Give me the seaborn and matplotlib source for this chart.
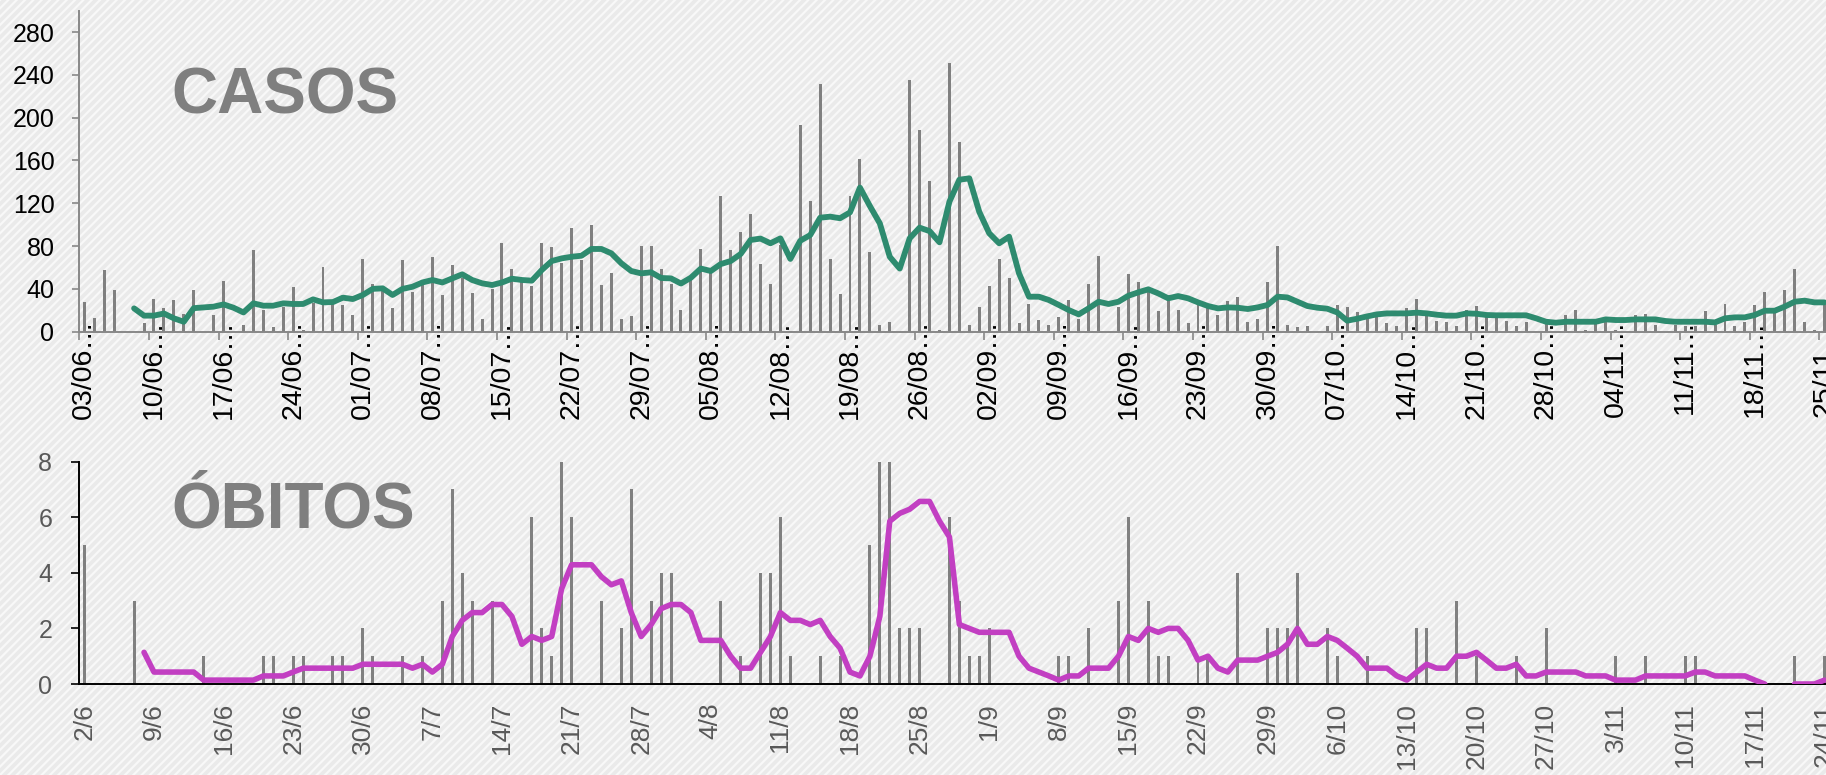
import numpy as np
import pandas as pd
import matplotlib
matplotlib.use('Agg')
import matplotlib.pyplot as plt
from matplotlib.patches import Rectangle
import seaborn as sns

plt.rcParams['font.family'] = ['Liberation Sans', 'DejaVu Sans']
plt.rcParams['hatch.linewidth'] = 1.6

# casos diarios, a partir de 03/06
casos = [28, 13, 58, 39, -42, 0, 8, 31, 22, 30,
         17, 39, 0, 16, 47, 0, 6, 76, 20, 4,
         23, 42, 2, 27, 60, 26, 25, 16, 68, 45,
         39, 22, 67, 37, 44, 70, 34, 62, 50, 36,
         12, 40, 83, 59, 48, 43, 83, 79, 64, 97,
         67, 100, 44, 55, 12, 15, 80, 80, 59, 45,
         20, 48, 77, 58, 127, 76, 93, 110, 63, 45,
         81, 1, 193, 122, 231, 68, 35, 127, 161, 74,
         6, 9, 0, 235, 188, 141, 2, 251, 177, 6,
         23, 43, 68, 50, 8, 26, 11, 6, 14, 30,
         12, 45, 71, -5, 23, 54, 46, 37, 19, 34,
         20, 8, 25, 22, 16, 29, 32, 9, 12, 46,
         80, 6, 4, 5, 0, 5, 25, 23, 18, 17,
         14, 8, 5, 22, 31, 15, 10, 9, 5, 20,
         24, 14, 15, 10, 5, 9, 0, 7, 0, 16,
         20, 2, 7, 12, 2, 0, 16, 17, 6, 0,
         6, 5, 5, 19, 6, 26, 5, 9, 25, 37,
         20, 39, 59, 9, 2, 25]

# media movel de casos (linha verde)
casos_media = [np.nan, np.nan, np.nan, np.nan, np.nan, 21.8, 15, 15, 17, 12.5,
               9.3, 22, 22.7, 23.4, 25.5, 22.4, 18, 26.5, 24.3, 24.3,
               26.5, 25.9, 25.9, 30.2, 27.4, 27.7, 31.8, 30.5, 34.3, 40,
               40.5, 34.3, 40, 42, 46, 48.3, 46, 49.8, 53.6, 48.3,
               45.2, 43.6, 46, 49.5, 48.3, 47.7, 57.6, 66, 68.5, 70,
               71, 77.3, 77.3, 73.2, 63.9, 56.7, 54.5, 55.5, 50.2, 49.8,
               45, 50.5, 59, 56.7, 63.2, 66, 72.6, 85.7, 87, 82.6,
               87.2, 68, 85, 90.3, 106.5, 107.5, 106, 111.5, 134.6, 117.4,
               101.2, 70, 59, 87.2, 97.2, 94, 83.5, 121.5, 142, 143.3,
               112, 92, 82.6, 88.8, 54.5, 32.7, 32.7, 29.6, 25, 20.2,
               16.2, 21.8, 28, 25.9, 28, 33.6, 36.8, 39.6, 35.8, 31.2,
               33.3, 31.2, 27.4, 24, 21.8, 22.7, 22.4, 21.2, 22.7, 25,
               32.7, 32, 28, 24, 22.4, 21.5, 18, 10.3, 12.1, 14.3,
               16.2, 17.1, 17.1, 17.1, 17.8, 17.1, 15.9, 15, 15, 17.1,
               16.8, 15.6, 15.3, 15.3, 15.3, 15.3, 12.5, 9.3, 8.4, 9.3,
               9.3, 9.3, 9.3, 11.5, 10.9, 10.9, 11.5, 11.5, 11.5, 10,
               9.3, 9.3, 9.3, 9.3, 8.7, 12.5, 13.4, 13.4, 15.6, 19.6,
               19.6, 23.4, 28, 29, 27.4, 27.4]

# obitos diarios, a partir de 02/06
obitos = [5, 0, 0, 0, 0, 3, 0, 0, 0, 0,
          0, 0, 1, 0, 0, 0, 0, 0, 1, 1,
          0, 1, 1, 0, 0, 1, 1, 0, 2, 1,
          0, 0, 1, 0, 1, 0, 3, 7, 4, 3,
          0, 3, 0, 0, 0, 6, 2, 1, 15, 6,
          0, 0, 3, 0, 2, 7, 0, 3, 4, 4,
          0, 0, 0, 0, 3, 0, 1, 0, 4, 4,
          6, 1, 0, 0, 1, 0, 1, 0, 0, 5,
          10, 25, 2, 2, 2, 0, 0, 6, 3, 1,
          1, 2, 0, 0, 0, 0, 0, 0, 1, 1,
          0, 2, 0, 0, 3, 6, 0, 3, 1, 1,
          0, 0, 1, 1, 0, 0, 4, 0, 0, 2,
          2, 2, 4, 0, 0, 2, 1, 0, 0, 1,
          0, 0, 0, 0, 2, 2, 0, 0, 3, 0,
          1, 0, 0, 0, 1, 0, 0, 2, 0, 0,
          0, 0, 0, 0, 1, 0, 0, 1, 0, 0,
          0, 1, 1, 0, 0, 0, 0, 0, 0, 0,
          0, 0, 1, 0, 0, 1]

# media movel de obitos (linha roxa)
obitos_media = [np.nan, np.nan, np.nan, np.nan, np.nan, np.nan, 1.14, 0.43, 0.43, 0.43,
                0.43, 0.43, 0.14, 0.14, 0.14, 0.14, 0.14, 0.14, 0.29, 0.29,
                0.29, 0.43, 0.57, 0.57, 0.57, 0.57, 0.57, 0.57, 0.71, 0.71,
                0.71, 0.71, 0.71, 0.57, 0.71, 0.43, 0.71, 1.71, 2.29, 2.57,
                2.57, 2.86, 2.86, 2.43, 1.43, 1.71, 1.57, 1.71, 3.43, 4.29,
                4.29, 4.29, 3.86, 3.57, 3.71, 2.57, 1.71, 2.14, 2.71, 2.86,
                2.86, 2.57, 1.57, 1.57, 1.57, 1.0, 0.57, 0.57, 1.14, 1.71,
                2.57, 2.29, 2.29, 2.14, 2.29, 1.71, 1.29, 0.43, 0.29, 1.0,
                2.43, 5.86, 6.14, 6.29, 6.57, 6.57, 5.86, 5.29, 2.14, 2.0,
                1.86, 1.86, 1.86, 1.86, 1.0, 0.57, 0.43, 0.29, 0.14, 0.29,
                0.29, 0.57, 0.57, 0.57, 1.0, 1.71, 1.57, 2.0, 1.86, 2.0,
                2.0, 1.57, 0.86, 1.0, 0.57, 0.43, 0.86, 0.86, 0.86, 1.0,
                1.14, 1.43, 2.0, 1.43, 1.43, 1.71, 1.57, 1.29, 1.0, 0.57,
                0.57, 0.57, 0.29, 0.14, 0.43, 0.71, 0.57, 0.57, 1.0, 1.0,
                1.14, 0.86, 0.57, 0.57, 0.71, 0.29, 0.29, 0.43, 0.43, 0.43,
                0.43, 0.29, 0.29, 0.29, 0.14, 0.14, 0.14, 0.29, 0.29, 0.29,
                0.29, 0.29, 0.43, 0.43, 0.29, 0.29, 0.29, 0.29, 0.14, 0.0,
                np.nan, np.nan, 0.0, 0.0, 0.0, 0.14]

casos_dias = pd.date_range('2020-06-03', periods=len(casos))
obitos_dias = pd.date_range('2020-06-02', periods=len(obitos))

W, H = 1826, 775
fig = plt.figure(figsize=(W / 100, H / 100), dpi=100)
fig.patch.set_facecolor('#eaeaea')
fig.patches.append(Rectangle((0, 0), 1, 1, transform=fig.transFigure,
                             facecolor='#eaeaea', edgecolor='#f8f8f8',
                             hatch='////', lw=0, zorder=-5))

x0, x1 = 79.4, 1829.4
ax1 = fig.add_axes([x0 / W, 1 - 331.7 / H, (x1 - x0) / W, (331.7 - 10.6) / H])
ax2 = fig.add_axes([x0 / W, 1 - 684 / H, (x1 - x0) / W, (684 - 461.7) / H])


def linha(ax, valores, cor, lw):
    s = pd.Series(valores, dtype=float)
    ok = s.notna()
    grupos = (~ok).cumsum()[ok]
    for _, seg in s[ok].groupby(grupos):
        sns.lineplot(x=seg.index, y=seg.values, color=cor, lw=lw, ax=ax,
                     zorder=3, solid_capstyle='round', solid_joinstyle='round')


# --- CASOS ---
sns.barplot(x=np.arange(len(casos)), y=casos, color='#808080', saturation=1,
            width=0.3, errorbar=None, ax=ax1, zorder=2)
linha(ax1, casos_media, '#2e8b6f', 4.2)
ax1.set_xlim(-0.5, len(casos) - 0.5)
ax1.set_ylim(0, 300)
ax1.set_yticks(range(0, 281, 40))
ax1.set_xticks(np.arange(-0.5, len(casos), 7))
ax1.set_xticks(np.arange(0, len(casos), 7),
               labels=[d.strftime('%d/%m') + '\u2026' for d in casos_dias[::7]], minor=True)
ax1.tick_params(axis='x', which='major', length=6, width=1.2, color='#888888', labelbottom=False)
ax1.tick_params(axis='x', which='minor', length=0, pad=-9, labelsize=20.5, labelrotation=90,
                labelcolor='black')
ax1.tick_params(axis='y', length=5, width=1.2, color='#888888', pad=13, labelsize=18,
                labelcolor='black')
for s in ['top', 'right']:
    ax1.spines[s].set_visible(False)
for s in ['left', 'bottom']:
    ax1.spines[s].set_color('#888888')
    ax1.spines[s].set_linewidth(1.4)
ax1.set_facecolor('none')
ax1.set_xlabel('')
ax1.set_ylabel('')

# --- OBITOS ---
sns.barplot(x=np.arange(len(obitos)), y=obitos, color='#808080', saturation=1,
            width=0.3, errorbar=None, ax=ax2, zorder=2)
linha(ax2, obitos_media, '#c23fc2', 4.0)
ax2.set_xlim(-0.5, len(obitos) - 0.5)
ax2.set_ylim(0, 8)
ax2.set_yticks(range(0, 9, 2))
ax2.set_xticks(np.arange(0, len(obitos), 7),
               labels=[f'{d.day}/{d.month}' for d in obitos_dias[::7]])
ax2.tick_params(axis='x', length=0, pad=13.5, labelsize=19, labelrotation=90,
                labelcolor='#595959')
ax2.tick_params(axis='y', length=6, width=1.2, color='black', pad=13.5, labelsize=18,
                labelcolor='#595959')
for s in ['top', 'right']:
    ax2.spines[s].set_visible(False)
for s in ['left', 'bottom']:
    ax2.spines[s].set_color('black')
    ax2.spines[s].set_linewidth(1.4)
ax2.set_facecolor('none')
ax2.set_xlabel('')
ax2.set_ylabel('')

fig.text(171 / W, 1 - 113 / H, 'CASOS', ha='left', va='baseline', fontsize=46,
         fontweight='bold', color='#7f7f7f')
fig.text(171 / W, 1 - 528 / H, 'ÓBITOS', ha='left', va='baseline', fontsize=46,
         fontweight='bold', color='#7f7f7f')

fig.savefig('out.png', dpi=100, facecolor=fig.get_facecolor())
